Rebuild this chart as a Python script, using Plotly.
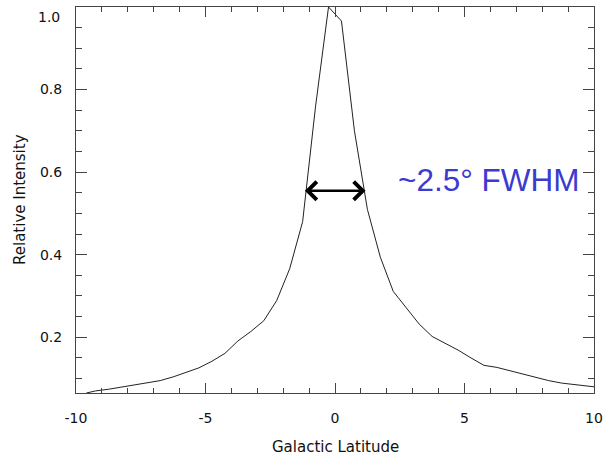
import plotly.graph_objects as go

# Galactic latitude (deg) and relative intensity
latitude = [-9.6, -9.25, -8.75, -8.25, -7.75, -7.25, -6.75, -6.25, -5.75, -5.25,
            -4.75, -4.25, -3.75, -3.25, -2.75, -2.25, -1.75, -1.25, -0.75, -0.25,
            0.25, 0.75, 1.25, 1.75, 2.25, 2.75, 3.25, 3.75, 4.25, 4.75,
            5.25, 5.75, 6.25, 6.75, 7.25, 7.75, 8.25, 8.75, 9.25, 10.0]
intensity = [0.065, 0.070, 0.074, 0.079, 0.084, 0.089, 0.095, 0.104, 0.115, 0.126,
             0.142, 0.161, 0.191, 0.214, 0.240, 0.289, 0.366, 0.48, 0.76, 1.0,
             0.966, 0.70, 0.51, 0.394, 0.311, 0.27, 0.232, 0.202, 0.186, 0.169,
             0.150, 0.132, 0.127, 0.119, 0.111, 0.103, 0.095, 0.089, 0.085, 0.080]

x_ticks = [-10, -5, 0, 5, 10]
x_tick_text = ["-10", "-5", "0", "5", "10"]
y_ticks = [0.2, 0.4, 0.6, 0.8, 1.0]
y_tick_text = ["0.2", "0.4", "0.6", "0.8", ""]

fwhm_left, fwhm_right, fwhm_level = -1.22, 1.18, 0.555
fwhm_label = "~2.5\u00b0 FWHM"
fwhm_label_x, fwhm_label_y = 5.95, 0.58

FONT = "DejaVu Sans"
AX = "#444444"

fig = go.Figure()
fig.add_trace(go.Scatter(x=latitude, y=intensity, mode="lines",
                         line=dict(color="#222222", width=1), showlegend=False,
                         hoverinfo="skip"))

fig.update_layout(
    width=604, height=456,
    margin=dict(l=76, r=10, t=7, b=63),
    paper_bgcolor="white", plot_bgcolor="white",
    font=dict(family=FONT, size=14, color="#111111"),
)
fig.update_xaxes(
    range=[-10, 10], tickvals=x_ticks, ticktext=x_tick_text, automargin=False,
    showgrid=False, zeroline=False, showline=True, linecolor=AX, linewidth=1,
    mirror="allticks", ticks="inside", ticklen=10, tickcolor=AX, tickwidth=1,
    minor=dict(dtick=1, tick0=0, ticks="inside", ticklen=5, tickcolor=AX, showgrid=False),
    ticklabelstandoff=12, tickfont=dict(size=14, family=FONT),
)
fig.update_yaxes(
    range=[0.065, 1.0], tickvals=y_ticks, ticktext=y_tick_text, automargin=False,
    showgrid=False, zeroline=False, showline=True, linecolor=AX, linewidth=1,
    mirror="allticks", ticks="inside", ticklen=11, tickcolor=AX, tickwidth=1,
    minor=dict(dtick=0.05, tick0=0, ticks="inside", ticklen=6, tickcolor=AX, showgrid=False),
    ticklabelstandoff=10, tickfont=dict(size=14, family=FONT),
)

# top tick label (shifted down, as in the reference)
fig.add_annotation(x=0, xref="paper", y=1.0, yref="y", text="1.0", showarrow=False,
                   xanchor="right", yanchor="middle", xshift=-14, yshift=-10,
                   font=dict(size=14, family=FONT, color="#111111"))
# axis titles
fig.add_annotation(x=0.5, xref="paper", y=0, yref="paper", text="Galactic Latitude",
                   showarrow=False, yanchor="middle", yshift=-54,
                   font=dict(size=15, family=FONT, color="#111111"))
fig.add_annotation(x=0, xref="paper", y=0.5, yref="paper", text="Relative Intensity",
                   showarrow=False, textangle=-90, xanchor="center", xshift=-56,
                   font=dict(size=15, family=FONT, color="#111111"))

# FWHM double arrow
fig.add_annotation(x=fwhm_right, y=fwhm_level, ax=fwhm_left, ay=fwhm_level,
                   xref="x", yref="y", axref="x", ayref="y", text="",
                   showarrow=True, arrowhead=4, startarrowhead=4, arrowside="end+start",
                   arrowwidth=2.5, arrowsize=1.4, startarrowsize=1.4,
                   arrowcolor="#000000", standoff=0, startstandoff=0)
fig.add_annotation(x=fwhm_label_x, xref="x", y=fwhm_label_y, yref="y", text=fwhm_label,
                   showarrow=False,
                   font=dict(size=31.5, family="Liberation Sans, Arial", color="#3b3bd0"))

fig.write_html("out.html", config={"displayModeBar": False},
               post_script="document.body.style.margin='0';"
                           "document.body.style.overflow='hidden';")
